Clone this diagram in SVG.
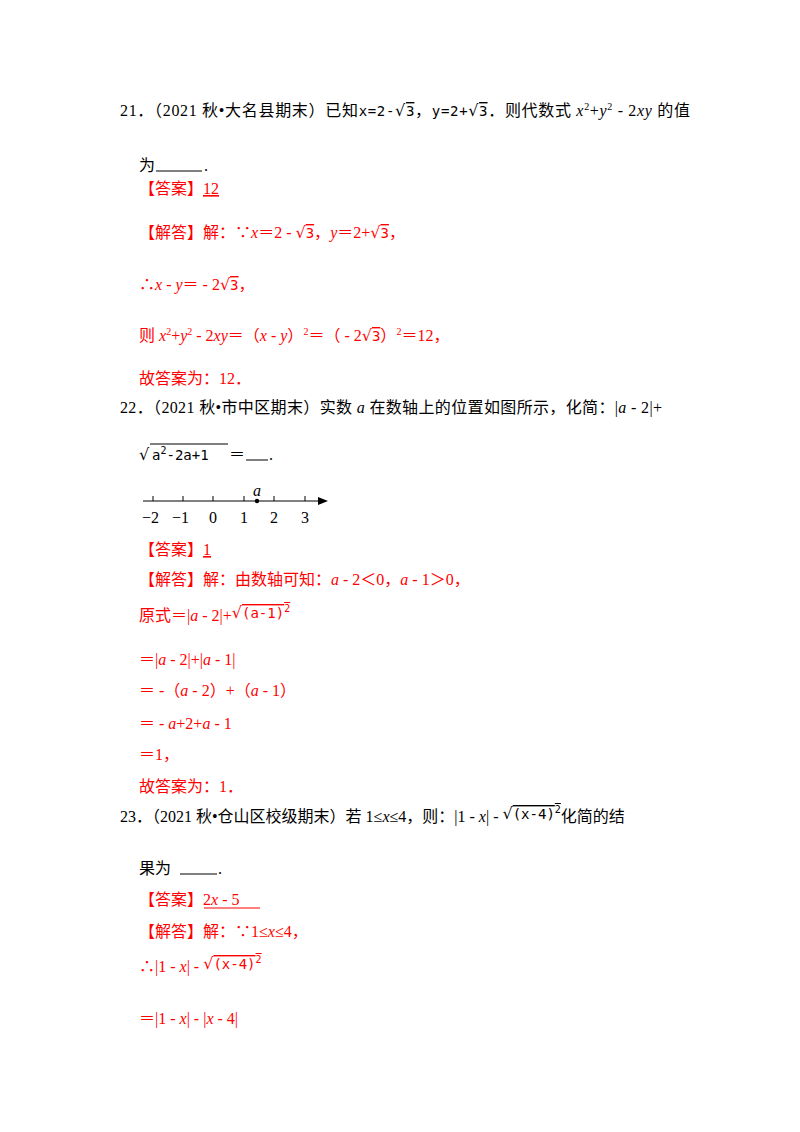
<svg xmlns="http://www.w3.org/2000/svg" width="800" height="1132" viewBox="0 0 800 1132">
<style>
text{font-family:"Liberation Serif","Noto Sans CJK SC",serif;font-size:16px;fill:#000}
.r{fill:#ff0000}
.i{font-style:italic}
.m{font-family:"DejaVu Sans Mono","Liberation Mono",monospace;font-size:14px}
.q{font-family:"DejaVu Sans",sans-serif}
.o{text-decoration:overline}
.p{font-size:10px}
.s{fill:none;stroke:#000;stroke-width:1}
.sr{fill:none;stroke:#ff0000;stroke-width:1}
</style>
<rect width="800" height="1132" fill="#fff"/>
<!-- Q21 -->
<text x="120" y="116" textLength="570" lengthAdjust="spacing">21．（2021 秋•大名县期末）已知<tspan class="m">x=2-</tspan><tspan class="q">√</tspan><tspan class="m o">3</tspan>，<tspan class="m">y=2+</tspan><tspan class="q">√</tspan><tspan class="m o">3</tspan>．则代数式 <tspan class="i">x</tspan><tspan class="p" dy="-6">2</tspan><tspan dy="6">+</tspan><tspan class="i">y</tspan><tspan class="p" dy="-6">2</tspan><tspan dy="6"> - 2</tspan><tspan class="i">xy</tspan> 的值</text>
<text x="139" y="171">为</text>
<line class="s" x1="156" y1="171" x2="202" y2="171"/>
<text x="204" y="171">.</text>
<text x="139" y="194" class="r">【答案】<tspan text-decoration="underline">12</tspan></text>
<text x="139" y="238" class="r">【解答】解：∵<tspan class="i">x</tspan>＝2 - <tspan class="q">√</tspan><tspan class="m o">3</tspan>，<tspan class="i">y</tspan>＝2+<tspan class="q">√</tspan><tspan class="m o">3</tspan>，</text>
<text x="139" y="290" class="r">∴<tspan class="i">x</tspan> - <tspan class="i">y</tspan>＝ - 2<tspan class="q">√</tspan><tspan class="m o">3</tspan>，</text>
<text x="139" y="341" class="r">则 <tspan class="i">x</tspan><tspan class="p" dy="-6">2</tspan><tspan dy="6">+</tspan><tspan class="i">y</tspan><tspan class="p" dy="-6">2</tspan><tspan dy="6"> - 2</tspan><tspan class="i">xy</tspan>＝（<tspan class="i">x</tspan> - <tspan class="i">y</tspan>）<tspan class="p" dy="-6">2</tspan><tspan dy="6">＝（ - 2</tspan><tspan class="q">√</tspan><tspan class="m o">3</tspan>）<tspan class="p" dy="-6">2</tspan><tspan dy="6">＝12，</tspan></text>
<text x="139" y="384" class="r">故答案为：12．</text>
<!-- Q22 -->
<text x="120" y="413" textLength="542" lengthAdjust="spacing">22．（2021 秋•市中区期末）实数 <tspan class="i">a</tspan> 在数轴上的位置如图所示，化简：|<tspan class="i">a</tspan> - 2|+</text>
<text x="139" y="460" class="q">√</text>
<line class="s" x1="150" y1="444" x2="228" y2="444"/>
<text x="152" y="460" class="m">a<tspan font-size="10" dy="-6">2</tspan><tspan dy="6">-2a+1</tspan></text>
<text x="229" y="460">＝</text>
<line class="s" x1="246" y1="460" x2="268" y2="460"/>
<text x="269" y="460">.</text>
<g id="axis">
<line class="s" x1="143" y1="501" x2="320" y2="501"/>
<path d="M318,497 L328,501 L318,505 Z" fill="#000"/>
<path class="s" d="M153,501v-5M183,501v-5M213,501v-5M244,501v-5M274,501v-5M305,501v-5"/>
<circle cx="257" cy="501" r="2.2" fill="#000"/>
<text x="253" y="496" class="i" font-size="13">a</text>
<text x="142" y="523" font-size="13">−2</text><text x="172" y="523" font-size="13">−1</text>
<text x="209" y="523" font-size="13">0</text><text x="240" y="523" font-size="13">1</text>
<text x="270" y="523" font-size="13">2</text><text x="301" y="523" font-size="13">3</text>
</g>
<text x="139" y="555" class="r">【答案】<tspan text-decoration="underline">1</tspan></text>
<text x="139" y="585" class="r">【解答】解：由数轴可知：<tspan class="i">a</tspan> - 2＜0，<tspan class="i">a</tspan> - 1＞0，</text>
<text x="139" y="621" class="r">原式＝|<tspan class="i">a</tspan> - 2|+<tspan class="q" dy="-3">√</tspan><tspan class="m o">(a-1)<tspan font-size="10" dy="-6">2</tspan></tspan></text>
<text x="139" y="665" class="r">＝|<tspan class="i">a</tspan> - 2|+|<tspan class="i">a</tspan> - 1|</text>
<text x="139" y="696" class="r">＝ -（<tspan class="i">a</tspan> - 2）+（<tspan class="i">a</tspan> - 1）</text>
<text x="139" y="729" class="r">＝ - <tspan class="i">a</tspan>+2+<tspan class="i">a</tspan> - 1</text>
<text x="139" y="760" class="r">＝1，</text>
<text x="139" y="792" class="r">故答案为：1．</text>
<!-- Q23 -->
<text x="120" y="822">23．（2021 秋•仓山区校级期末）若 1≤<tspan class="i">x</tspan>≤4，则：|1 - <tspan class="i">x</tspan>| - <tspan class="q" dy="-3">√</tspan><tspan class="m o">(x-4)<tspan font-size="10" dy="-6">2</tspan></tspan><tspan dy="9">化简的结</tspan></text>
<text x="139" y="874">果为 </text>
<line class="s" x1="180" y1="874" x2="217" y2="874"/>
<text x="218" y="874">.</text>
<text x="139" y="905" class="r">【答案】2<tspan class="i">x</tspan> - 5</text>
<line class="sr" x1="204" y1="908" x2="260" y2="908"/>
<text x="139" y="937" class="r">【解答】解：∵1≤<tspan class="i">x</tspan>≤4，</text>
<text x="139" y="972" class="r">∴|1 - <tspan class="i">x</tspan>| - <tspan class="q" dy="-3">√</tspan><tspan class="m o">(x-4)<tspan font-size="10" dy="-6">2</tspan></tspan></text>
<text x="139" y="1024" class="r">＝|1 - <tspan class="i">x</tspan>| - |<tspan class="i">x</tspan> - 4|</text>
</svg>
